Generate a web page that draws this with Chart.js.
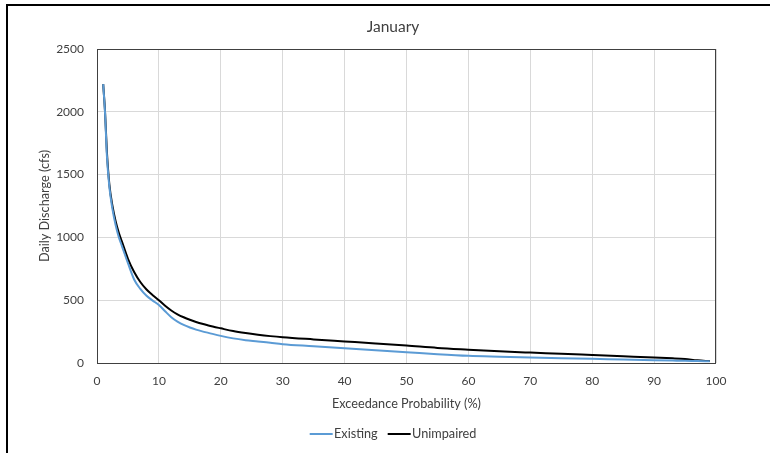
<!DOCTYPE html>
<html>
<head>
<meta charset="utf-8">
<script src="https://cdn.jsdelivr.net/npm/chart.js@4.4.1/dist/chart.umd.min.js"></script>
<style>
  html, body { margin: 0; padding: 0; background: #fff; width: 770px; height: 453px; overflow: hidden; }
  #frame { position: absolute; left: 6px; top: 4px; width: 800px; height: 460px; border-top: 2px solid #000; border-left: 2px solid #000; }
  #wrap { position: absolute; left: 8px; top: 6px; width: 770px; height: 447px; }
</style>
</head>
<body>
<div id="frame"></div>
<div id="wrap"><canvas id="c" width="770" height="447"></canvas></div>
<script>
const exceedance = [1, 1.3, 1.6, 2, 2.5, 3, 3.5, 4, 5, 6, 7, 8, 9, 10, 11, 12, 13, 14, 15, 16, 17, 18, 20, 22, 24, 26, 28, 30, 35, 40, 45, 50, 55, 60, 65, 70, 75, 80, 85, 90, 93, 95, 97, 99];
const existing = [2220, 1990, 1650, 1400, 1225, 1100, 1005, 935, 795, 665, 590, 535, 497, 462, 412, 365, 330, 303, 283, 266, 252, 240, 216, 196, 182, 172, 161, 150, 134, 117, 101, 86, 70, 57, 50, 44, 38, 33, 27, 22, 19, 17, 16, 14];
const unimpaired = [2220, 2000, 1680, 1420, 1250, 1130, 1040, 970, 830, 725, 645, 585, 540, 500, 455, 418, 388, 364, 344, 327, 312, 299, 276, 254, 238, 225, 214, 205, 188, 172, 156, 139, 120, 106, 93, 83, 74, 64, 54, 44, 37, 31, 21, 15];
const seriesNames = ['Existing', 'Unimpaired'];
const seriesColors = ['#5B9BD5', '#000000'];
const chartTitle = 'January';
const xTitle = 'Exceedance Probability (%)';
const yTitle = 'Daily Discharge (cfs)';

const toPts = (ys) => exceedance.map((x, i) => ({x: x, y: ys[i]}));
const FONT = 'Lato, "Open Sans", sans-serif';
const TXT = '#404040';

// legend swatch: a short line that sits just before the label text
function swatch(color) {
  const c = document.createElement('canvas');
  c.width = 46; c.height = 4;
  const g = c.getContext('2d');
  g.fillStyle = color;
  g.fillRect(14, 1, 23, 2);
  return c;
}

const borderPlugin = {
  id: 'plotBorder',
  beforeDatasetsDraw(chart) {
    const a = chart.chartArea, ctx = chart.ctx;
    ctx.save();
    ctx.lineWidth = 1;
    ctx.strokeStyle = '#404040';
    ctx.strokeRect(Math.round(a.left) + 0.5, Math.round(a.top) + 0.5, Math.round(a.right - a.left) - 1, Math.round(a.bottom - a.top));
    ctx.restore();
  }
};

new Chart(document.getElementById('c'), {
  type: 'line',
  data: {
    datasets: [
      { label: seriesNames[0], data: toPts(existing), borderColor: seriesColors[0], backgroundColor: seriesColors[0], borderWidth: 2, pointRadius: 0, pointStyle: swatch(seriesColors[0]), cubicInterpolationMode: 'monotone', fill: false },
      { label: seriesNames[1], data: toPts(unimpaired), borderColor: seriesColors[1], backgroundColor: seriesColors[1], borderWidth: 2, pointRadius: 0, pointStyle: swatch(seriesColors[1]), cubicInterpolationMode: 'monotone', fill: false }
    ]
  },
  options: {
    responsive: false,
    animation: false,
    layout: { padding: { left: 0, right: 0, top: 0, bottom: 2.65 } },
    plugins: {
      title: { display: true, text: chartTitle, color: TXT, font: { family: FONT, size: 15.5, weight: 'normal' }, padding: { top: 11.7, bottom: 12.7 } },
      legend: {
        position: 'bottom',
        labels: { color: TXT, font: { family: FONT, size: 12.7 }, usePointStyle: true, pointStyleWidth: 18, padding: 10 }
      },
      tooltip: { enabled: false }
    },
    scales: {
      x: {
        type: 'linear', min: 0, max: 100,
        ticks: { stepSize: 10, color: TXT, font: { family: FONT, size: 12 }, padding: 10.8, maxRotation: 0 },
        grid: { color: '#d9d9d9', drawTicks: false },
        border: { display: false },
        title: { display: true, text: xTitle, color: TXT, font: { family: FONT, size: 12.7 }, padding: { top: 6, bottom: 6 } },
        afterFit(s) { s.height = 54.65; }
      },
      y: {
        min: 0, max: 2500,
        ticks: { stepSize: 500, color: TXT, font: { family: FONT, size: 12 }, padding: 13, callback: (v) => String(v) },
        grid: { color: '#d9d9d9', drawTicks: false },
        border: { display: false },
        title: { display: true, text: yTitle, color: TXT, font: { family: FONT, size: 12.7 }, padding: { top: 29.4, bottom: 29.4 } },
        afterFit(s) { s.width = 89; }
      },
      yRight: {
        position: 'right',
        display: true,
        ticks: { display: false },
        grid: { display: false, drawTicks: false },
        border: { display: false },
        afterFit(s) { s.width = 62; }
      }
    }
  },
  plugins: [borderPlugin]
});
</script>
</body>
</html>
